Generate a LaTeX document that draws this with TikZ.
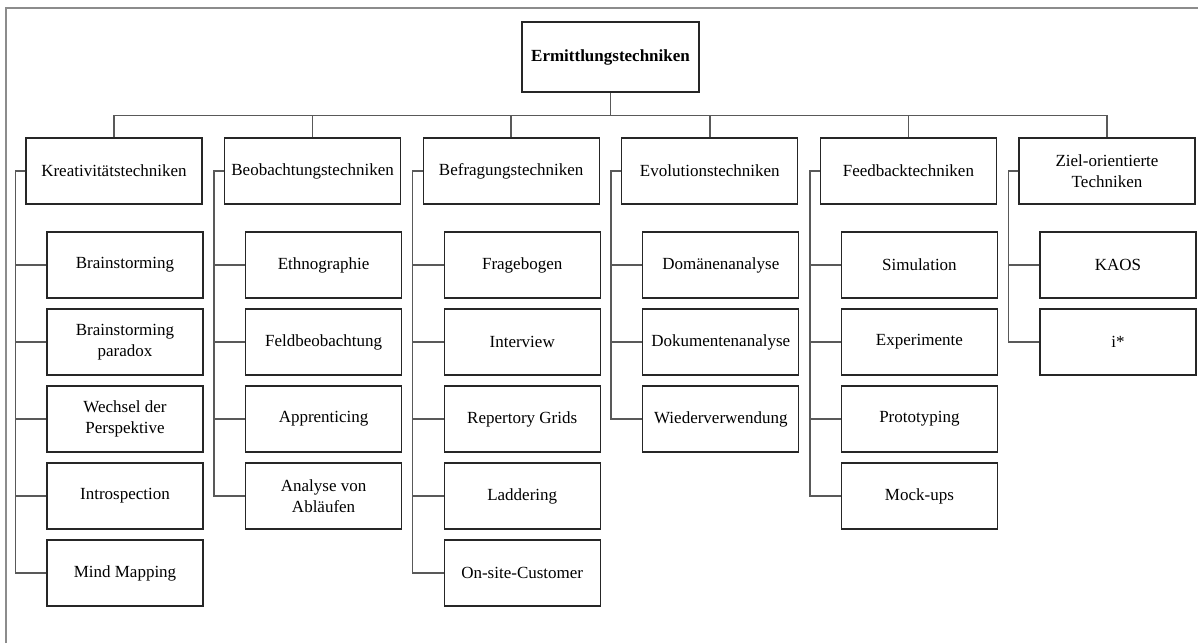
\documentclass[tikz,border=0pt]{standalone}
\usepackage{fontspec}
\setmainfont{Liberation Serif}
% items of one category: #1 category node, #2 column index, #3 list of texts
\newcommand{\drawitems}[3]{%
  \foreach \txt [count=\k from 0] in {#3}{
    \node[itembox] (#1-\k) at ({125+198.6*#2},{265+77*\k}) {\txt};
    \draw[link] (#1.west) -- ++(-10,0) |- (#1-\k.west);
  }}
\begin{document}
\begin{tikzpicture}[x=1pt,y=-1pt,
  box/.style={draw=black!85, line width=1.3pt, align=center, inner sep=0pt,
    font=\fontsize{17}{20.5}\selectfont},
  catbox/.style={box, minimum width=176pt, minimum height=66pt},
  itembox/.style={box, minimum width=156pt, minimum height=66pt},
  rootbox/.style={box, minimum width=177pt, minimum height=70pt,
    font=\fontsize{17}{20.5}\selectfont\bfseries},
  link/.style={draw=black!65, line width=1.5pt}]
\useasboundingbox (0,0) rectangle (1198,643);
% outer frame
\draw[black!45, line width=1.2pt] (6,643) -- (6,8) -- (1198,8);

\node[rootbox] (root) at (610.5,57) {Ermittlungstechniken};

% categories
\foreach \name/\txt [count=\i from 0] in {
  kre/Kreativitätstechniken,
  beo/Beobachtungstechniken,
  bef/Befragungstechniken,
  evo/Evolutionstechniken,
  fee/Feedbacktechniken,
  zie/{Ziel-orientierte\\Techniken}}{
  \node[catbox] (\name) at ({114+198.6*\i},171) {\txt};
  \draw[link] (\name.north) -- ++(0,-22) -| (root.south);
}

\drawitems{kre}{0}{Brainstorming, {Brainstorming\\paradox},
  {Wechsel der\\Perspektive}, Introspection, Mind Mapping}
\drawitems{beo}{1}{Ethnographie, Feldbeobachtung, Apprenticing,
  {Analyse von\\Abläufen}}
\drawitems{bef}{2}{Fragebogen, Interview, Repertory Grids, Laddering,
  On-site-Customer}
\drawitems{evo}{3}{Domänenanalyse, Dokumentenanalyse, Wiederverwendung}
\drawitems{fee}{4}{Simulation, Experimente, Prototyping, Mock-ups}
\drawitems{zie}{5}{KAOS, i*}
\end{tikzpicture}
\end{document}
